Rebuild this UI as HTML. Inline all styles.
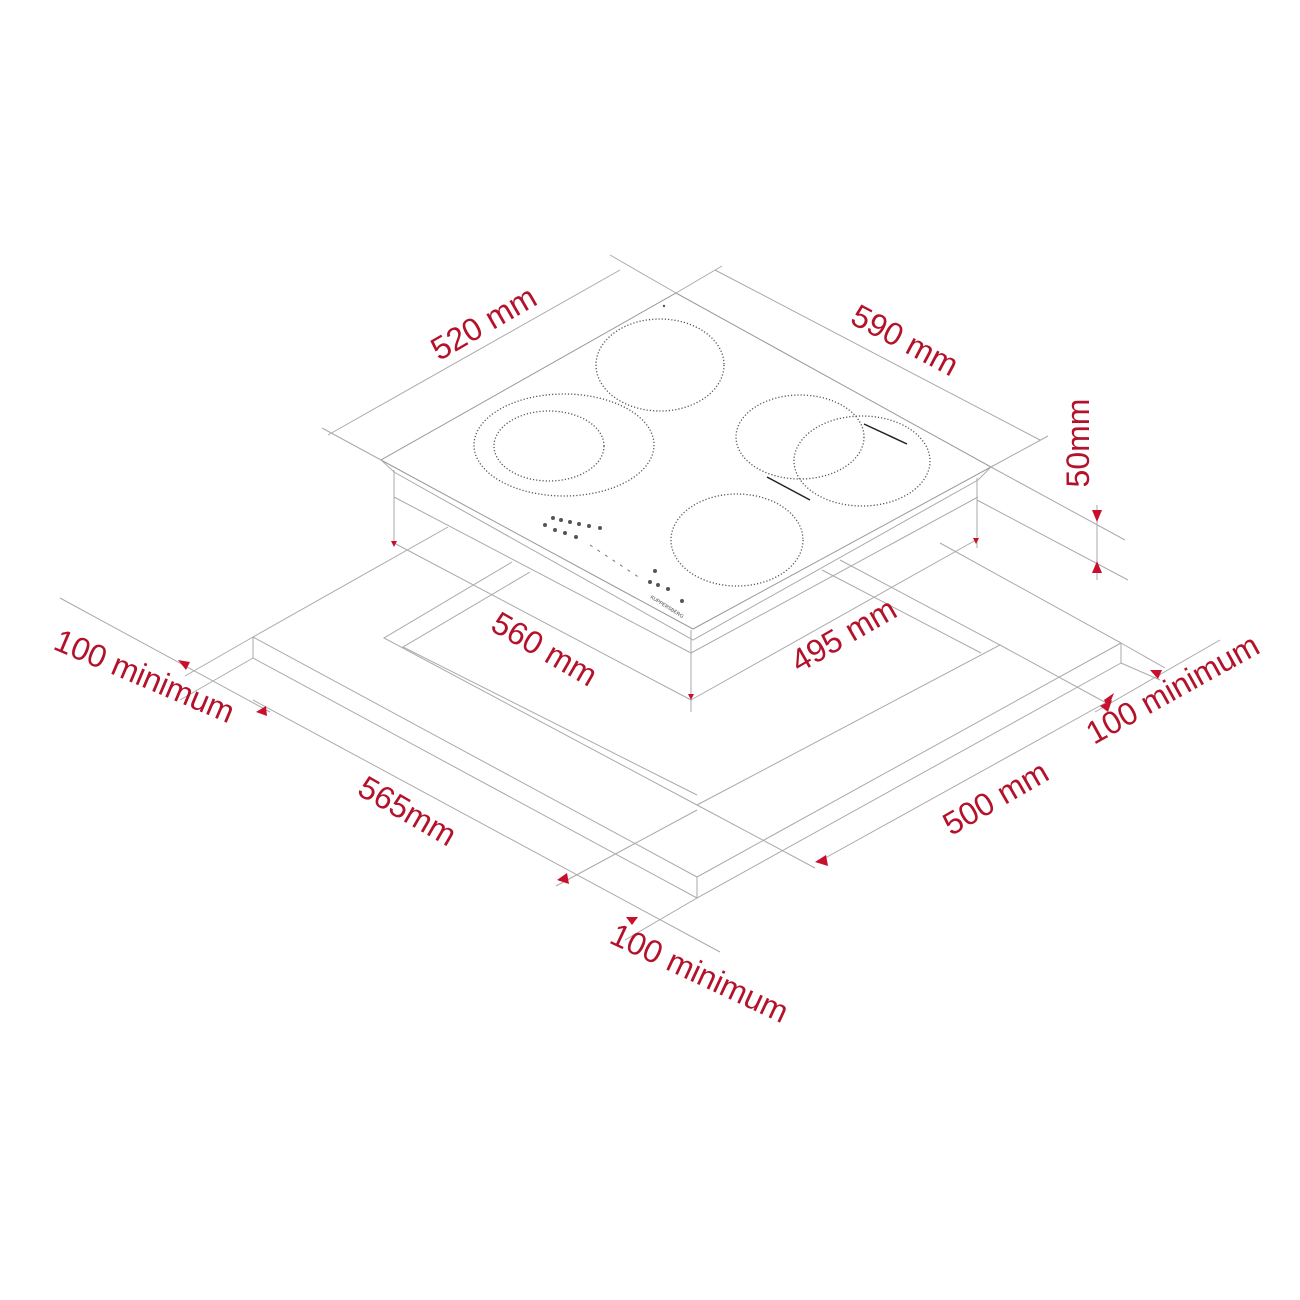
<!DOCTYPE html>
<html><head><meta charset="utf-8"><style>
html,body{margin:0;padding:0;background:#fff;}
svg{display:block;}
text{font-family:"Liberation Sans",sans-serif;fill:#b3122a;}
</style></head><body>
<svg width="1300" height="1300" viewBox="0 0 1300 1300" xmlns="http://www.w3.org/2000/svg">
<g fill="none" stroke="#aaa" stroke-width="1">
<!-- countertop top face -->
<polyline points="253,637 697,877 1121,643"/>
<line x1="253" y1="637" x2="448" y2="527"/>
<line x1="1121" y1="643" x2="940" y2="543"/>
<!-- thickness -->
<polyline points="253,637 253,658 697,898 1121,663 1121,643"/>
<line x1="697" y1="877" x2="697" y2="898"/>
<!-- cutout -->
<polyline points="512,562 384,638 697,805 1000,645 840,560"/>
<polyline points="530,572 403,647 697,795"/>
<polyline points="822,570 981,653"/>
<!-- hob glass top -->
<polygon points="381,460 676,293 991,467 693,629" stroke="#999"/>
<polyline points="381,460 394,472 693,640 978,480 991,467" />
<!-- body -->
<polyline points="394,497 691,653 978,497"/>
<line x1="394" y1="470" x2="394" y2="545"/>
<line x1="691" y1="630" x2="691" y2="712"/>
<line x1="977" y1="478" x2="977" y2="548"/>
<!-- top dim lines -->
<line x1="328" y1="435" x2="620" y2="270"/>
<line x1="715" y1="270" x2="1040" y2="440"/>
<line x1="381" y1="460" x2="322" y2="428"/>
<line x1="676" y1="293" x2="610" y2="255"/>
<line x1="676" y1="293" x2="722" y2="266"/>
<line x1="991" y1="467" x2="1048" y2="436"/>
<!-- 50mm -->
<line x1="991" y1="467" x2="1125" y2="540"/>
<line x1="977" y1="500" x2="1128" y2="580"/>
<line x1="1097" y1="505" x2="1097" y2="580"/>
<!-- 560/495 -->
<line x1="394" y1="543" x2="691" y2="700"/>
<line x1="691" y1="700" x2="976" y2="540"/>
<!-- 565 -->
<line x1="253" y1="700" x2="720" y2="952"/>
<line x1="60" y1="598" x2="270" y2="712"/>
<line x1="253" y1="658" x2="180" y2="700"/>
<line x1="253" y1="637" x2="185" y2="676"/>
<line x1="697" y1="898" x2="625" y2="940"/>
<line x1="556" y1="886" x2="697" y2="810"/>
<!-- 500 -->
<line x1="818" y1="862" x2="1105" y2="703"/>
<line x1="697" y1="805" x2="815" y2="868"/>
<line x1="1121" y1="663" x2="1160" y2="680"/>
<line x1="1121" y1="643" x2="1165" y2="668"/>
<line x1="1095" y1="712" x2="1220" y2="640"/>
<line x1="1000" y1="645" x2="1110" y2="705"/>
</g>
<!-- burners -->
<g fill="none" stroke="#555" stroke-width="1.3" stroke-dasharray="1.2 2">
<ellipse cx="660" cy="365" rx="64" ry="46"/>
<ellipse cx="564" cy="445" rx="90" ry="51"/>
<ellipse cx="549" cy="446" rx="55" ry="35"/>
<ellipse cx="800" cy="437" rx="64" ry="42"/>
<ellipse cx="862" cy="461" rx="68" ry="45"/>
<ellipse cx="737" cy="540" rx="66" ry="46"/>
</g>
<g stroke="#222" stroke-width="1.5">
<line x1="864" y1="424" x2="907" y2="444"/>
<line x1="767" y1="477" x2="810" y2="500"/>
</g>
<g fill="#555" font-size="6">
<circle cx="664" cy="306" r="1.2"/>
<circle cx="553" cy="518" r="2"/><circle cx="561" cy="520" r="2"/><circle cx="570" cy="522" r="2"/><circle cx="579" cy="524" r="2"/><circle cx="589" cy="526" r="2"/><circle cx="600" cy="528" r="2"/>
<circle cx="545" cy="525" r="2"/><circle cx="555" cy="530" r="2"/><circle cx="565" cy="533" r="2"/><circle cx="576" cy="537" r="2"/>
<line x1="590" y1="545" x2="640" y2="578" stroke="#777" stroke-dasharray="3 6"/>
<circle cx="655" cy="571" r="2"/><circle cx="650" cy="582" r="2"/><circle cx="658" cy="585" r="2"/><circle cx="668" cy="589" r="2"/><circle cx="682" cy="601" r="2"/>
</g>
<text x="650" y="598" font-size="5" transform="rotate(32 650 598)" style="fill:#444">KUPPERSBERG</text>
<!-- arrows -->
<g fill="#c8102e">
<polygon points="1092,510 1102,510 1097,522"/>
<polygon points="1092,573 1102,573 1097,561"/>
<polygon points="178,660 190,662 186,670"/>
<polygon points="256,712 266,706 267,716"/>
<polygon points="557,880 567,873 569,884"/>
<polygon points="626,917 638,917 632,925"/>
<polygon points="815,862 826,855 828,866"/>
<polygon points="1100,706 1112,700 1108,712"/>
<polygon points="1104,700 1114,693 1108,708"/>
<polygon points="1150,670 1162,670 1158,679"/>
<polygon points="391,541 397,541 394,547"/>
<polygon points="688,694 694,694 691,700"/>
<polygon points="973,538 979,538 976,544"/>
</g>
<!-- labels -->
<g font-size="32">
<text x="483" y="334" text-anchor="middle" transform="rotate(-30 483 322)">520 mm</text>
<text x="905" y="351" text-anchor="middle" transform="rotate(28 905 340)">590 mm</text>
<text x="1090" y="466" text-anchor="middle" transform="rotate(-90 1078 455)">50mm</text>
<text x="545" y="660" text-anchor="middle" transform="rotate(30 545 648)">560 mm</text>
<text x="843" y="646" text-anchor="middle" transform="rotate(-30 843 634)">495 mm</text>
<text x="145" y="687" text-anchor="middle" transform="rotate(23 145 675)">100 minimum</text>
<text x="408" y="822" text-anchor="middle" transform="rotate(30 408 810)">565mm</text>
<text x="995" y="809" text-anchor="middle" transform="rotate(-30 995 797)">500 mm</text>
<text x="1172" y="700" text-anchor="middle" transform="rotate(-29 1172 688)">100 minimum</text>
<text x="700" y="984" text-anchor="middle" transform="rotate(25 700 972)">100 minimum</text>
</g>
</svg>
</body></html>
